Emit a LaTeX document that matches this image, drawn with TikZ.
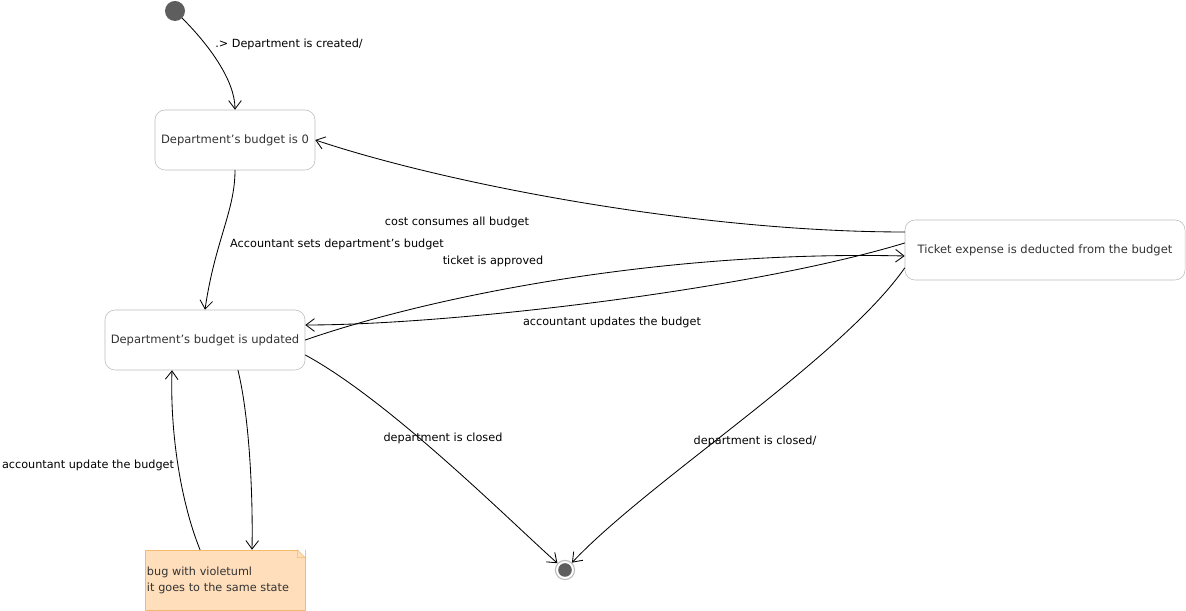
\documentclass[tikz,border=0pt]{standalone}
\usepackage{fontspec}
\setmainfont{DejaVu Sans}
\usetikzlibrary{arrows.meta}
\definecolor{stbord}{HTML}{BDBDBD}
\definecolor{sttext}{HTML}{333333}
\definecolor{dot}{HTML}{5E5E5E}
\definecolor{notefill}{HTML}{FFDEBB}
\definecolor{notebord}{HTML}{F5B96B}
\begin{document}
\begin{tikzpicture}[>={Straight Barb[length=6pt,width=9pt]}, x=0.025cm, y=0.025cm, line join=round, line cap=round, font=\fontsize{8}{10}\selectfont,
	state/.style={draw=stbord, rounded corners=0.25cm, minimum height=1.5cm, text=sttext, fill=white, font=\fontsize{8.2}{10}\selectfont},
	lbl/.style={inner sep=0pt, text=black},
	edge/.style={->, line width=0.6pt}]
	\useasboundingbox (0,0) rectangle (1186,611);
	%Trạng thái
	\node[circle, fill=dot, minimum size=0.5cm, inner sep=0pt] (start) at (175,600) {};
	\node[state, minimum width=4cm] (s0) at (235,471) {Department's budget is 0};
	\node[state, minimum width=5cm] (su) at (205,271) {Department's budget is updated};
	\node[state, minimum width=7cm] (tk) at (1045,361) {Ticket expense is deducted from the budget};
	\node[circle, draw=stbord, fill=white, minimum size=0.48cm, inner sep=0pt, line width=0.8pt] (end) at (565,41) {};
	\fill[dot] (end) circle (0.17cm);
	%Ghi chú
	\node[draw=notebord, fill=notefill, minimum width=4cm, minimum height=1.5cm, text width=3.9cm, align=left, inner xsep=0.05cm, text=sttext, font=\fontsize{8}{11.5}\selectfont] (note) at (225,31) {bug with violetuml\\it goes to the same state};
	\fill[white] (note.north east) -- ++(-8,0) -- ++(8,-8) -- cycle;
	\draw[notebord] (note.north east) ++(-8,0) -- ++(0,-8) -- ++(8,0) -- (note.north east) ++(-8,0) -- ++(8,-8);
	%Chuyển trạng thái
	\draw[edge] (start) .. controls (210,565) and (235,530) .. (s0.north);
	\draw (215,567) node[lbl, right]{.> Department is created/};
	\draw[edge] (s0.south) .. controls (235,400) and (215,370) .. (su.north);
	\draw (337,367) node[lbl]{Accountant sets department's budget};
	\draw[edge] (tk.west |- 0,379) .. controls (700,379) and (450,426) .. (s0.east);
	\draw (457,389) node[lbl]{cost consumes all budget};
	\draw[edge] (su.east) .. controls (420,311) and (650,361) .. (tk.west |- 0,355);
	\draw (493,350) node[lbl]{ticket is approved};
	\draw[edge] (tk.west |- 0,368) .. controls (750,321) and (450,286) .. (su.east |- 0,286);
	\draw (612,289) node[lbl]{accountant updates the budget};
	\draw[edge] (su.east |- 0,256) .. controls (390,210) and (510,90) .. (end);
	\draw (443,173) node[lbl]{department is closed};
	\draw[edge] (tk.west |- 0,343) .. controls (840,251) and (650,131) .. (end);
	\draw (755,170) node[lbl]{department is closed/};
	\draw[edge] (su.south -| 238,0) .. controls (250,191) and (253,111) .. (note.north -| 252,0);
	\draw[edge] (note.north -| 200,0) .. controls (180,111) and (170,181) .. (su.south -| 172,0);
	\draw (88,146) node[lbl]{accountant update the budget};
\end{tikzpicture}
\end{document}
